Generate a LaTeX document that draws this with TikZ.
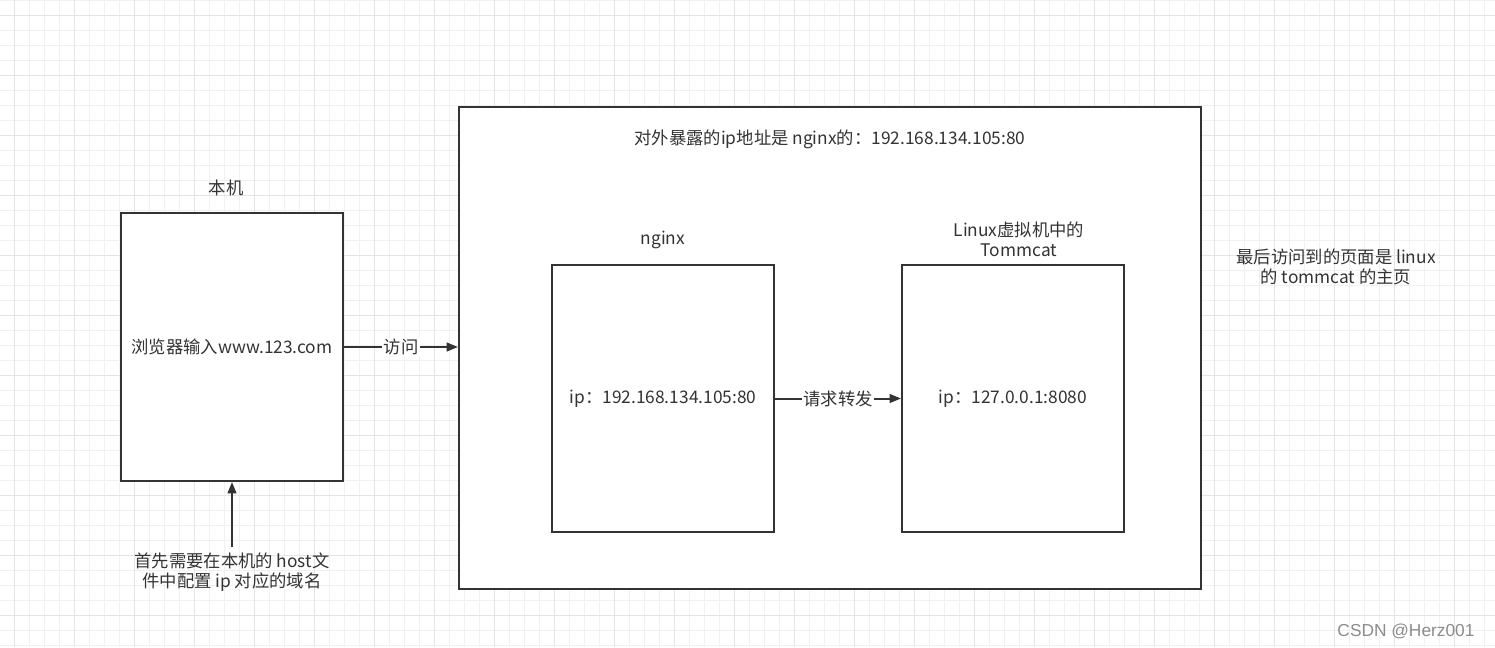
\documentclass[tikz,border=0pt]{standalone}
\usepackage{fontspec}
\newfontfamily\cjk{Noto Sans CJK SC}
\newfontfamily\wmfont{Liberation Sans}
\usetikzlibrary{arrows.meta}
\definecolor{trazo}{HTML}{333333}
\definecolor{gridlo}{HTML}{F1F1F1}
\definecolor{gridhi}{HTML}{E4E4E4}

\begin{document}
\begin{tikzpicture}[x=0.75pt,y=-0.75pt,line width=1.5pt,>={Triangle[length=8.5pt,width=6.5pt]},
  every node/.style={font=\cjk\fontsize{13}{15}\selectfont,text=trazo,align=center},
  caja/.style={draw=trazo,fill=white,inner sep=0pt},
  flecha/.style={->,draw=trazo},
  etiq/.style={fill=white,inner sep=1pt}]
  \useasboundingbox (0,0) rectangle (1495,647);
  % cuadricula de fondo
  \foreach \x in {14,29,...,1494} \draw[gridlo,line width=0.75pt] (\x,0) -- (\x,647);
  \foreach \y in {0,15,...,645} \draw[gridlo,line width=0.75pt] (0,\y) -- (1495,\y);
  \foreach \x in {14,74,...,1494} \draw[gridhi,line width=0.75pt] (\x,0) -- (\x,647);
  \foreach \y in {15,75,...,645} \draw[gridhi,line width=0.75pt] (0,\y) -- (1495,\y);
  % cajas
  \node[caja,minimum width=556.5pt,minimum height=361.5pt] (servidor) at (830,348){};
  \node (expuesta) at (830,139){对外暴露的ip地址是 nginx的：192.168.134.105:80};
  \node[caja,minimum width=166.5pt,minimum height=201pt] (local) at (232,347){浏览器输入www.123.com};
  \node (locallbl) at (226,188){本机};
  \node[caja,minimum width=166.5pt,minimum height=200.25pt] (nginx) at (663,398.5){ip：192.168.134.105:80};
  \node (nginxlbl) at (663,240){nginx};
  \node[caja,minimum width=166.5pt,minimum height=200.25pt] (tomcat) at (1013,398.5){ip：127.0.0.1:8080};
  \node (tomcatlbl) at (1019,239.5){Linux虚拟机中的\\Tommcat};
  \node (final) at (1336,266.5){最后访问到的页面是 linux\\的 tommcat 的主页};
  \node (hosts) at (232,572){首先需要在本机的 host文\\件中配置 ip 对应的域名};
  % conexiones
  \draw[flecha] (local.east) -- (local.east -| servidor.west) node[midway,etiq]{访问};
  \draw[flecha] (nginx.east) -- (tomcat.west) node[midway,etiq]{请求转发};
  \draw[flecha] (hosts) -- (local.south);
  \node[font=\wmfont\fontsize{13}{15}\selectfont,text=black!45] (marca) at (1406,631){CSDN @Herz001};
\end{tikzpicture}
\end{document}
